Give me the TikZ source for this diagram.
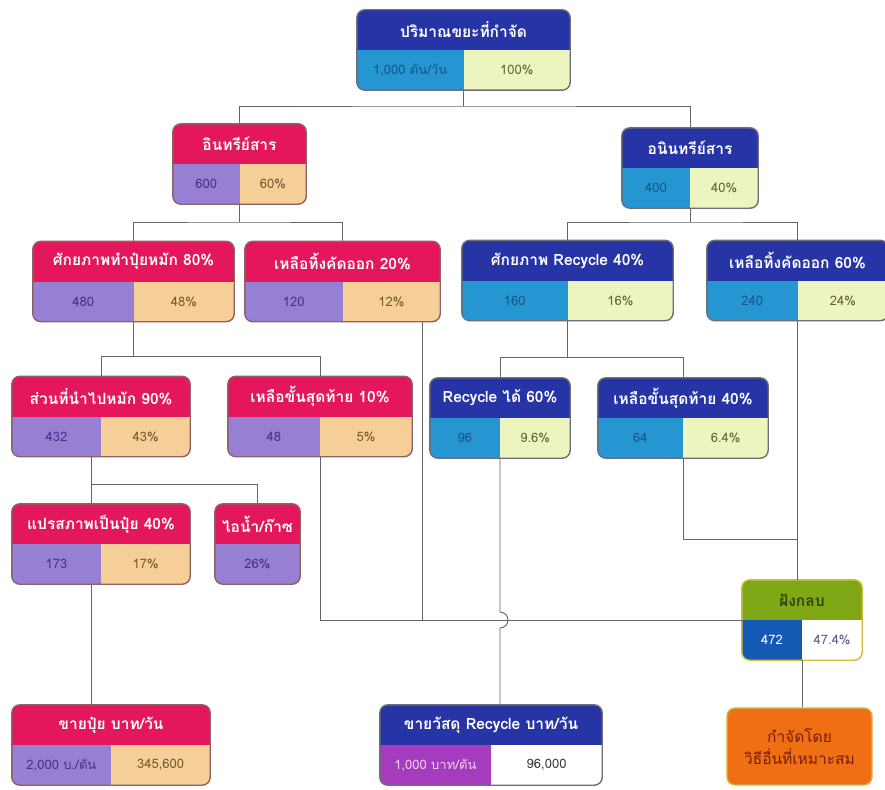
\documentclass[tikz,border=0pt]{standalone}
\usepackage{fontspec}
\setmainfont[Script=Thai]{Loma}
\usetikzlibrary{calc}

% colour sets: head, left, right, line, title text, left text, right text
\definecolor{orghead}{RGB}{228,22,92}
\definecolor{orgleft}{RGB}{150,128,212}
\definecolor{orgright}{RGB}{246,206,152}
\definecolor{orgline}{RGB}{140,100,95}
\definecolor{orgttext}{RGB}{255,255,255}
\definecolor{orgltext}{RGB}{70,50,140}
\definecolor{orgrtext}{RGB}{120,90,50}
\definecolor{inorghead}{RGB}{38,52,165}
\definecolor{inorgleft}{RGB}{38,150,210}
\definecolor{inorgright}{RGB}{236,245,192}
\definecolor{inorgline}{RGB}{110,110,120}
\definecolor{inorgttext}{RGB}{255,255,255}
\definecolor{inorgltext}{RGB}{25,85,140}
\definecolor{inorgrtext}{RGB}{100,100,60}
\definecolor{sellhead}{RGB}{38,52,165}
\definecolor{sellleft}{RGB}{165,60,190}
\definecolor{sellright}{RGB}{255,255,255}
\definecolor{sellline}{RGB}{110,110,120}
\definecolor{sellttext}{RGB}{255,255,255}
\definecolor{sellltext}{RGB}{245,205,245}
\definecolor{sellrtext}{RGB}{60,60,60}
\definecolor{landhead}{RGB}{128,168,22}
\definecolor{landleft}{RGB}{20,90,180}
\definecolor{landright}{RGB}{255,255,255}
\definecolor{landline}{RGB}{205,190,60}
\definecolor{landttext}{RGB}{50,70,10}
\definecolor{landltext}{RGB}{255,255,255}
\definecolor{landrtext}{RGB}{100,90,150}
\definecolor{otherfill}{RGB}{240,110,20}
\definecolor{othertext}{RGB}{120,30,10}
\definecolor{linkgrey}{RGB}{100,100,100}

\tikzset{
  boxshape/.style={rectangle, minimum height=80, inner sep=0pt},
  titletext/.style={font=\bfseries\fontsize{15.5}{17}\selectfont},
  valtext/.style={font=\fontsize{13}{15}\selectfont},
  link/.style={draw=linkgrey, line width=0.9pt}
}

% box with a title row and two value cells
\newcommand{\splitbox}[7]{%
  \node[boxshape, minimum width=#3] (#1) at (#2) {};
  \begin{scope}
    \clip[rounded corners=8] (#1.south west) rectangle (#1.north east);
    \fill[#4head] (#1.north west) rectangle (#1.east);
    \fill[#4left] (#1.west) rectangle (#1.south);
    \fill[#4right] (#1.center) rectangle (#1.south east);
  \end{scope}
  \draw[rounded corners=8, #4line, line width=1.4pt] (#1.south west) rectangle (#1.north east);
  \node[titletext, text=#4ttext] at ($(#1.north)!0.5!(#1.center)$) {#5};
  \node[valtext, text=#4ltext] at ($(#1.west)!0.5!(#1.south)$) {#6};
  \node[valtext, text=#4rtext] at ($(#1.center)!0.5!(#1.south east)$) {#7};
}

\begin{document}
\begin{tikzpicture}[x=1pt,y=-1pt]
\fill[white] (0,0) rectangle (885,789);
\useasboundingbox (0,0) rectangle (885,789);

%connectors
\coordinate (p1) at (463.5,90);
\draw[link] (p1) -- ++(0,16) coordinate (j1);
\draw[link] (239.5,124) |- (j1) -| (690,128);
\draw[link] (239.5,204) -- ++(0,18) coordinate (j2);
\draw[link] (133.5,241.5) |- (j2) -| (342.5,241.5);
\draw[link] (690,208) -- ++(0,14) coordinate (j3);
\draw[link] (567.5,240.5) |- (j3) -| (797.5,240.5);

%boxes
\splitbox{total}{463.5,50}{213}{inorg}{ปริมาณขยะที่กำจัด}{1,000 ตัน/วัน}{100\%}
\splitbox{org}{239.5,164}{133}{org}{อินทรีย์สาร}{600}{60\%}
\splitbox{inorgm}{690,168}{136}{inorg}{อนินทรีย์สาร}{400}{40\%}
\splitbox{compost}{133.5,281.5}{201}{org}{ศักยภาพทำปุ๋ยหมัก 80\%}{480}{48\%}
\splitbox{rejorg}{342.5,281.5}{195}{org}{เหลือทิ้งคัดออก 20\%}{120}{12\%}
\splitbox{recpot}{567.5,280.5}{211}{inorg}{ศักยภาพ Recycle 40\%}{160}{16\%}
\splitbox{rejinorg}{797.5,280.5}{181}{inorg}{เหลือทิ้งคัดออก 60\%}{240}{24\%}
\splitbox{tocomp}{101,416.5}{178}{org}{ส่วนที่นำไปหมัก 90\%}{432}{43\%}
\splitbox{lastorg}{320,416.5}{184}{org}{เหลือขั้นสุดท้าย 10\%}{48}{5\%}
\splitbox{recok}{500,418}{140}{inorg}{Recycle ได้ 60\%}{96}{9.6\%}
\splitbox{lastinorg}{683,418}{170}{inorg}{เหลือขั้นสุดท้าย 40\%}{64}{6.4\%}
\splitbox{fert}{101,544}{178}{org}{แปรสภาพเป็นปุ๋ย 40\%}{173}{17\%}
\splitbox{landfill}{802,620}{120}{land}{ฝังกลบ}{472}{47.4\%}
\splitbox{sellfert}{111,745}{198}{org}{ขายปุ๋ย บาท/วัน}{2,000 บ./ตัน}{345,600}
\splitbox{sellrec}{491,745}{222}{sell}{ขายวัสดุ Recycle บาท/วัน}{1,000 บาท/ตัน}{96,000}

% steam box
\node[boxshape, minimum width=85] (steam) at (257.5,544) {};
\begin{scope}
  \clip[rounded corners=8] (steam.south west) rectangle (steam.north east);
  \fill[orghead] (steam.north west) rectangle (steam.east);
  \fill[orgleft] (steam.west) rectangle (steam.south east);
\end{scope}
\draw[rounded corners=8, orgline, line width=1.4pt] (steam.south west) rectangle (steam.north east);
\node[titletext, text=white] at ($(steam.north)!0.5!(steam.center)$) {ไอน้ำ/ก๊าซ};
\node[valtext, text=orgltext] at ($(steam.center)!0.5!(steam.south)$) {26\%};

% other disposal box
\node[boxshape, minimum width=145, minimum height=77, fill=otherfill, draw=landline,
  line width=1.4pt, rounded corners=8, text=othertext, align=center,
  font=\fontsize{15.5}{22}\selectfont] (other) at (799.5,746.5) {กำจัดโดย\\วิธีอื่นที่เหมาะสม};

%lower connectors
\draw[link] (compost.south) -- ++(0,35) coordinate (j4);
\draw[link] (tocomp.north) |- (j4) -| (lastorg.north);
\draw[link] (recpot.south) -- ++(0,37) coordinate (j5);
\draw[link] (recok.north) |- (j5) -| (lastinorg.north);
\coordinate (c6) at ([xshift=-10pt]tocomp.south);
\draw[link] (c6) -- ++(0,28) coordinate (j6) -| (steam.north);
\draw[link] (j6) -- (c6 |- fert.north);
\coordinate (c7) at ([xshift=-10pt]fert.south);
\draw[link] (c7) -- (c7 |- sellfert.north);
\draw[link] (lastorg.south) |- (landfill.west);
\coordinate (c8) at ([xshift=80pt]rejorg.south);
\draw[link] (c8) -- (c8 |- landfill.west);
\coordinate (h1) at (recok.south |- landfill.west);
\draw[link] (recok.south) -- ([yshift=8pt]h1) arc[start angle=-90, end angle=90, radius=8]
  -- (recok.south |- sellrec.north);
\draw[link] (rejinorg.south) -- (rejinorg.south |- landfill.north);
\coordinate (j9) at ([yshift=40pt]rejinorg.south |- landfill.north);
\draw[link] (lastinorg.south) |- (j9);
\draw[link] (landfill.south) -- (landfill.south |- other.north);
\end{tikzpicture}
\end{document}
